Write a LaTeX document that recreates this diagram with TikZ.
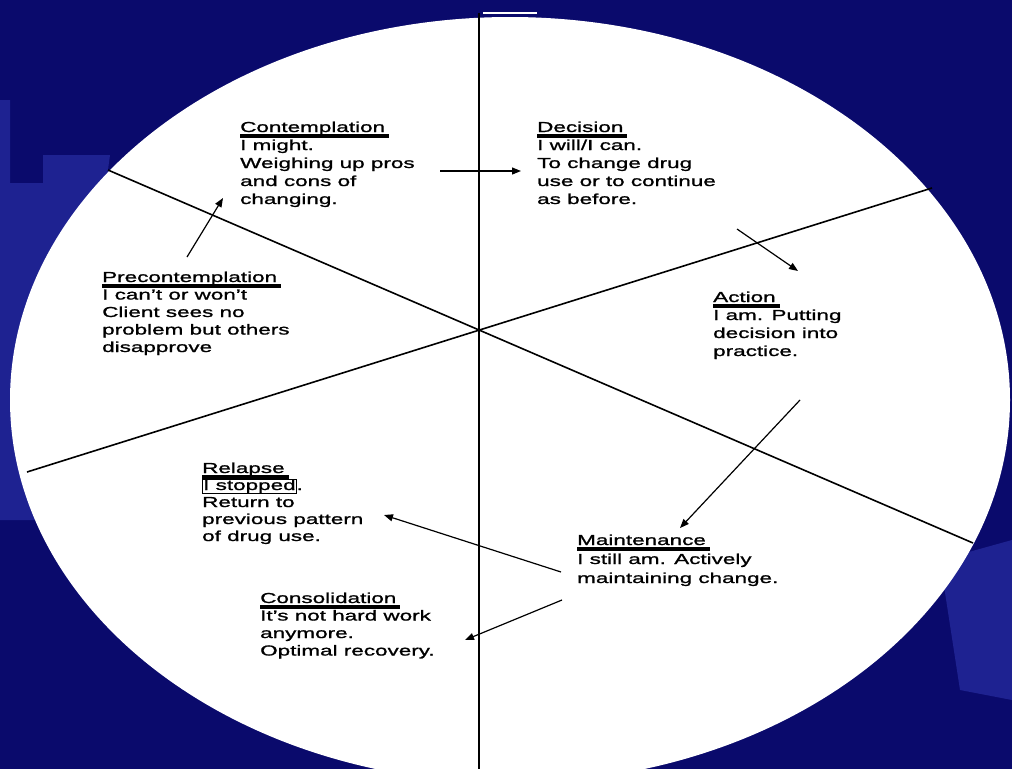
\documentclass[tikz,border=0pt]{standalone}
\usepackage{fontspec}
\setmainfont{Liberation Sans}[FakeStretch=1.55,FakeBold=1.2]
\usetikzlibrary{arrows.meta}
\definecolor{bgnavy}{RGB}{10,10,108}
\definecolor{bglight}{RGB}{30,34,145}
\newcommand\hd[1]{\setbox0\hbox{#1}\rlap{\rule[-5.5pt]{\dimexpr\wd0+4pt\relax}{3.5pt}}\box0}
\newcommand\stg[2]{\vtop{\baselineskip=#1\lineskiplimit=-20pt\lineskip=0pt\halign{##\hfil\cr #2\crcr}}}
\tikzset{
  txt/.style={anchor=base west, inner sep=0pt, font=\fontsize{14.5}{18}\selectfont},
  divider/.style={line width=1.6pt, black},
  arr/.style={line width=1.2pt, black, -{Triangle[length=9pt,width=7pt]}}
}
\begin{document}
\begin{tikzpicture}[x=1pt,y=-1pt]
\useasboundingbox (0,0) rectangle (1012,769);
\clip (0,0) rectangle (1012,769);
% background
\fill[bgnavy] (0,0) rectangle (1012,769);
\fill[bglight] (0,100) -- (10,100) -- (10,183) -- (43,183) -- (43,155) -- (110,155) -- (60,520) -- (0,520) -- cycle;
\fill[bglight] (940,560) -- (1012,540) -- (1012,700) -- (960,690) -- cycle;
% disc
\fill[white] (510,400) ellipse [x radius=500pt, y radius=383pt];
% dividers
\coordinate (vtop) at (479,13);
\coordinate (vbot) at (479,769);
\coordinate (l1a) at (108,170);
\coordinate (l1b) at (973,543);
\coordinate (l2a) at (27,472);
\coordinate (l2b) at (932,188);
\draw[divider] (vtop) -- (vbot);
\draw[divider] (l1a) -- (l1b);
\draw[divider] (l2a) -- (l2b);
\coordinate (wb1) at (483,13);
\coordinate (wb2) at (537,13);
\draw[white, line width=2pt] (wb1) -- (wb2);
% stages
\node[txt] (contemp) at (240,132) {\stg{18pt}{\hd{Contemplation}\cr I might.\cr Weighing up pros\cr and cons of\cr changing.}};
\node[txt] (decision) at (537,132) {\stg{18pt}{\hd{Decision}\cr I will/I can.\cr To change drug\cr use or to continue\cr as before.}};
\node[txt] (precon) at (102,282) {\stg{17.5pt}{\hd{Precontemplation}\cr I can't or won't\cr Client sees no\cr problem but others\cr disapprove}};
\node[txt] (action) at (713,302) {\stg{18pt}{\hd{Action}\cr I am. Putting\cr decision into\cr practice.}};
\node[txt] (relapse) at (202,473) {\stg{17pt}{\hd{Relapse}\cr \fboxsep=0pt\fboxrule=1pt\fbox{I stopped}.\cr Return to\cr previous pattern\cr of drug use.}};
\node[txt] (maint) at (577,545) {\stg{19pt}{\hd{Maintenance}\cr I still am. Actively\cr maintaining change.}};
\node[txt] (consol) at (260,603) {\stg{17.5pt}{\hd{Consolidation}\cr It's not hard work\cr anymore.\cr Optimal recovery.}};
% arrows
\coordinate (a1s) at (187,257); \coordinate (a1e) at (223,198);
\coordinate (a2s) at (440,171); \coordinate (a2e) at (521,171);
\coordinate (a3s) at (737,229); \coordinate (a3e) at (798,271);
\coordinate (a4s) at (800,400); \coordinate (a4e) at (680,528);
\coordinate (a5s) at (561,572); \coordinate (a5e) at (384,515);
\coordinate (a6s) at (562,600); \coordinate (a6e) at (465,640);
\draw[arr] (a1s) -- (a1e);
\draw[arr] (a2s) -- (a2e);
\draw[arr] (a3s) -- (a3e);
\draw[arr] (a4s) -- (a4e);
\draw[arr] (a5s) -- (a5e);
\draw[arr] (a6s) -- (a6e);
\end{tikzpicture}
\end{document}
